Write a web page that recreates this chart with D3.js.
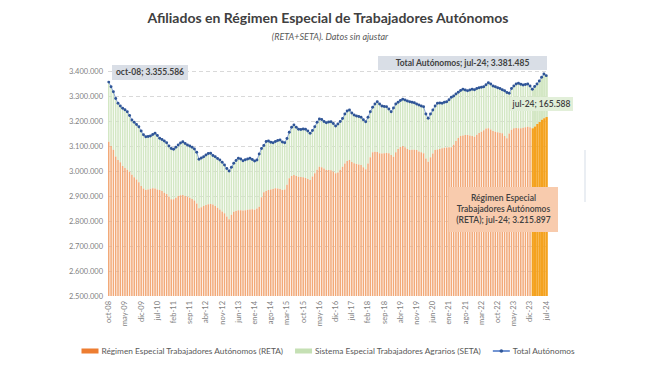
<!DOCTYPE html>
<html>
<head>
<meta charset="utf-8">
<title>Afiliados RETA + SETA</title>
<style>
body { margin: 0; background: #fff; font-family: Lato, "Open Sans", sans-serif; }
.grid line { stroke: #d9d9d9; stroke-dasharray: 4,3; }
.grid path { stroke-width: 0; }
.axis path { stroke-width: 0; }
.axis text { fill: #7f7f7f; font-size: 7.5px; font-family: Lato, sans-serif; }
</style>
</head>
<body>
<script src="https://d3js.org/d3.v7.min.js"></script>
<script>

// month names, first month = oct-08
const monthNames = ["ene","feb","mar","abr","may","jun","jul","ago","sep","oct","nov","dic"];
const tickLabels = ["oct-08","may-09","dic-09","jul-10","feb-11","sep-11","abr-12","nov-12",
  "jun-13","ene-14","ago-14","mar-15","oct-15","may-16","dic-16","jul-17","feb-18","sep-18",
  "abr-19","nov-19","jun-20","ene-21","ago-21","mar-22","oct-22","may-23","dic-23","jul-24"];

// Total autónomos (miles), oct-08 ... jul-24
const totalK = [
  3355.586,3337,3317,
  3290,3271,3260,3251,3245,3237,3222,3204,3195,3186,3177,3160,
  3145,3137,3138,3140,3146,3151,3142,3131,3126,3120,3113,3100,
  3090,3087,3095,3104,3112,3117,3110,3104,3100,3095,3088,3075,
  3047,3052,3057,3064,3070,3071,3062,3057,3050,3044,3035,3024,
  3010,3000,3015,3031,3042,3051,3048,3041,3045,3048,3051,3046,
  3040,3044,3068,3090,3102,3118,3120,3115,3113,3118,3122,3124,
  3116,3113,3130,3155,3175,3184,3175,3167,3166,3168,3167,3160,
  3151,3162,3177,3195,3208,3206,3198,3193,3196,3197,3190,3180,
  3188,3198,3210,3228,3240,3244,3232,3224,3220,3218,3215,3205,
  3197,3215,3237,3255,3268,3277,3268,3260,3258,3257,3248,3237,
  3252,3268,3275,3282,3287,3284,3280,3277,3275,3273,3268,3264,
  3260,3257,3228,3211,3228,3244,3260,3271,3272,3271,3275,3277,
  3285,3295,3300,3308,3315,3322,3327,3324,3321,3324,3327,3325,
  3330,3333,3335,3337,3345,3353,3348,3340,3337,3333,3330,3325,
  3321,3314,3311,3330,3340,3348,3351,3347,3344,3346,3348,3340,
  3327,3338,3348,3360,3375,3388,3381.485
];

// RETA (miles)
const retaK = [
  3117,3100,3085,
  3058,3044,3035,3020,3012,3005,2997,2985,2975,2966,2955,2940,
  2930,2924,2926,2929,2931,2930,2926,2924,2920,2913,2908,2898,
  2887,2887,2893,2900,2903,2904,2900,2897,2893,2888,2882,2870,
  2851,2855,2860,2864,2867,2868,2866,2860,2853,2846,2838,2831,
  2818,2807,2825,2837,2840,2843,2843,2842,2843,2845,2846,2847,
  2845,2850,2857,2895,2915,2920,2924,2926,2928,2931,2930,2928,
  2924,2926,2945,2971,2980,2984,2980,2977,2976,2975,2972,2968,
  2964,2978,2991,3005,3017,3015,3010,3004,3004,3003,2998,2991,
  2994,3005,3017,3030,3040,3044,3036,3031,3028,3026,3024,3015,
  3007,3030,3055,3075,3077,3076,3071,3070,3071,3072,3071,3064,
  3057,3075,3088,3096,3100,3095,3088,3084,3085,3085,3084,3078,
  3075,3071,3050,3037,3055,3070,3084,3086,3088,3091,3093,3094,
  3095,3095,3105,3120,3132,3140,3142,3144,3144,3142,3140,3137,
  3145,3152,3157,3163,3170,3171,3166,3160,3157,3155,3153,3151,
  3140,3131,3150,3165,3171,3172,3171,3171,3173,3175,3177,3175,
  3171,3178,3188,3196,3205,3211,3215.897
];

const yTicks = [2500000,2600000,2700000,2800000,2900000,3000000,3100000,3200000,3300000,3400000];

const periods = totalK.map(function(d, i) {
  const m = (9 + i) % 12;
  const yr = 8 + Math.floor((9 + i) / 12);
  return monthNames[m] + "-" + String(yr).padStart(2, "0");
});

const data = periods.map(function(p, i) {
  return { period: p, total: totalK[i] * 1000, reta: retaK[i] * 1000, hl: p.endsWith("-24") };
});

const width = 659, height = 371;
const plot = { left: 108, right: 547, top: 71, bottom: 296 };

const es = d3.formatLocale({ decimal: ",", thousands: ".", grouping: [3], currency: ["", " €"] });
const fmt = es.format(",d");

const svg = d3.select("body").append("svg")
    .attr("width", width)
    .attr("height", height)
    .style("font-family", "Lato, 'Open Sans', sans-serif");

const x = d3.scaleBand()
    .domain(periods)
    .range([plot.left, plot.right])
    .paddingInner(0.35)
    .paddingOuter(0);

const y = d3.scaleLinear()
    .domain([2500000, 3400000])
    .range([plot.bottom, plot.top]);

// titles
svg.append("text")
    .attr("x", 328).attr("y", 23)
    .attr("text-anchor", "middle")
    .style("font-size", "14px").style("font-weight", "bold")
    .attr("fill", "#404040")
    .text("Afiliados en Régimen Especial de Trabajadores Autónomos");

svg.append("text")
    .attr("x", 330).attr("y", 40)
    .attr("text-anchor", "middle")
    .style("font-size", "9px").style("font-style", "italic")
    .attr("fill", "#595959")
    .text("(RETA+SETA). Datos sin ajustar");

// gridlines
svg.append("g")
    .attr("class", "grid")
    .attr("transform", "translate(" + plot.left + ",0)")
    .call(d3.axisLeft(y).tickValues(yTicks.slice(1)).tickSize(-(plot.right - plot.left)).tickFormat(""));

// SETA part (on top of RETA)
svg.append("g").selectAll("rect")
    .data(data)
  .enter().append("rect")
    .attr("x", function(d) { return x(d.period); })
    .attr("width", function(d) { return d.hl ? x.step() : x.bandwidth(); })
    .attr("y", function(d) { return y(d.total); })
    .attr("height", function(d) { return y(d.reta) - y(d.total); })
    .attr("fill", "#d3e7c4");

// RETA part
svg.append("g").selectAll("rect")
    .data(data)
  .enter().append("rect")
    .attr("x", function(d) { return x(d.period); })
    .attr("width", function(d) { return d.hl ? x.step() : x.bandwidth(); })
    .attr("y", function(d) { return y(d.reta); })
    .attr("height", function(d) { return y(2500000) - y(d.reta); })
    .attr("fill", function(d) { return d.hl ? "#f4a21e" : "#f2a978"; });

// total line
const cx = function(d) { return x(d.period) + x.bandwidth() / 2; };
svg.append("path")
    .datum(data)
    .attr("fill", "none")
    .attr("stroke", "#6f8fd0")
    .attr("stroke-width", 0.8)
    .attr("d", d3.line().x(cx).y(function(d) { return y(d.total); }));

svg.append("g").selectAll("circle")
    .data(data)
  .enter().append("circle")
    .attr("cx", cx)
    .attr("cy", function(d) { return y(d.total); })
    .attr("r", 1.45)
    .attr("fill", "#2f5597");

// axes
svg.append("g")
    .attr("class", "axis")
    .attr("transform", "translate(" + (plot.left - 2) + ",0)")
    .call(d3.axisLeft(y).tickValues(yTicks).tickSize(0).tickPadding(3).tickFormat(fmt));

svg.append("g")
    .attr("class", "axis")
    .attr("transform", "translate(0," + plot.bottom + ")")
    .call(d3.axisBottom(x).tickValues(tickLabels).tickSize(0))
  .selectAll("text")
    .attr("transform", "rotate(-90)")
    .attr("x", -5)
    .attr("y", 0)
    .attr("dy", "0.32em")
    .style("text-anchor", "end");

// data labels
function label(x0, y0, w, h, bg, lines, weight) {
  svg.append("rect").attr("x", x0).attr("y", y0).attr("width", w).attr("height", h).attr("fill", bg);
  lines.forEach(function(t, k) {
    svg.append("text")
        .attr("x", x0 + w / 2)
        .attr("y", y0 + h / 2 + (k - (lines.length - 1) / 2) * 11)
        .attr("dy", "0.35em")
        .attr("text-anchor", "middle")
        .attr("fill", "#404040")
        .style("font-size", "8.5px")
        .style("font-weight", weight)
        .text(t);
  });
}

const first = data[0], last = data[data.length - 1];
label(112, 65, 76, 15, "#d9dee6", [first.period + "; " + fmt(first.total)], "bold");
label(378, 56, 169, 14, "#d9dee6", ["Total Autónomos; " + last.period + "; " + fmt(last.total)], "bold");
label(510, 97, 63, 14, "#e2efd9", [last.period + "; " + fmt(last.total - last.reta)], "600");
label(449, 187, 109, 45, "#f8cbad",
  ["Régimen Especial", "Trabajadores Autónomos", "(RETA); " + last.period + "; " + fmt(last.reta)], "600");

// faint leftover line from the source image
svg.append("line")
    .attr("x1", 585).attr("x2", 585).attr("y1", 150).attr("y2", 202)
    .attr("stroke", "#e3e8ef").attr("stroke-width", 1.5);

// legend, laid out left to right and centred under the plot
const legendItems = [
  { name: "Régimen Especial Trabajadores Autónomos (RETA)", type: "rect", color: "#ed7d31" },
  { name: "Sistema Especial Trabajadores Agrarios (SETA)", type: "rect", color: "#c5e0b4" },
  { name: "Total Autónomos", type: "line", color: "#4472c4" }
];
const lg = svg.append("g").attr("transform", "translate(0,351)").style("font-size", "8.3px").attr("fill", "#595959");
let cursor = 0;
legendItems.forEach(function(it, k) {
  const g = lg.append("g").attr("transform", "translate(" + cursor + ",0)");
  if (it.type === "rect") {
    g.append("rect").attr("x", 0).attr("y", -2.5).attr("width", 17).attr("height", 5).attr("fill", it.color);
  } else {
    g.append("line").attr("x1", 0).attr("x2", 17).attr("stroke", it.color).attr("stroke-width", 1.5);
    g.append("circle").attr("cx", 8.5).attr("r", 1.8).attr("fill", "#2f5597");
  }
  const t = g.append("text").attr("x", 20).attr("dy", "0.35em").text(it.name);
  cursor += 20 + t.node().getComputedTextLength() + 12;
});
cursor -= 12;
lg.attr("transform", "translate(" + (328 - cursor / 2) + ",351)");

</script>
</body>
</html>
